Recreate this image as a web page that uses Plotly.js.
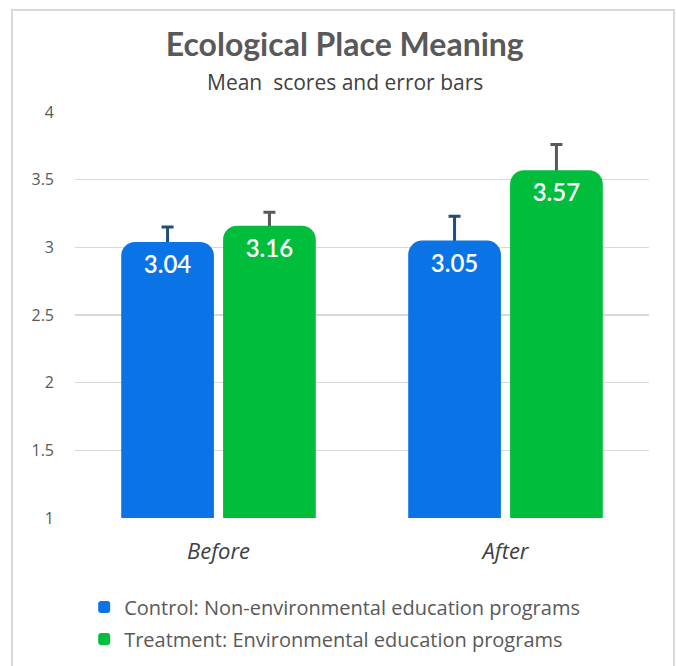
<!DOCTYPE html>
<html>
<head>
<meta charset="utf-8">
<script src="https://cdn.plot.ly/plotly-3.0.1.min.js"></script>
<style>
  html, body { margin: 0; padding: 0; background: #ffffff; }
  #wrap { position: relative; width: 676px; height: 666px; }
  #chart { width: 676px; height: 666px; }
  #frame { position: absolute; left: 11px; top: 9px; width: 664px; height: 664px;
           border: 2px solid #d9d9d9; pointer-events: none; box-sizing: border-box; }
</style>
</head>
<body>
<div id="wrap">
  <div id="chart"></div>
  <div id="frame"></div>
</div>
<script>
const categories = ["Before", "After"];
const controlName = "Control: Non-environmental education programs";
const treatmentName = "Treatment: Environmental education programs";
const controlMeans = [3.04, 3.05];
const treatmentMeans = [3.16, 3.57];
const controlErr = [0.11, 0.18];
const treatmentErr = [0.10, 0.19];
const yTicks = [1, 1.5, 2, 2.5, 3, 3.5, 4];
const yTickLabels = ["1", "1.5", "2", "2.5", "3", "3.5", "4"];

const LATO = "Lato, 'Open Sans', sans-serif";
const OPEN = "'Open Sans', Lato, sans-serif";

// Error-bar carrier traces (transparent bars) drawn first, so the real bars cover the lower half
function errTrace(means, errs, color, group) {
  return {
    type: "bar",
    x: categories,
    y: means,
    offsetgroup: group,
    showlegend: false,
    marker: { color: "rgba(0,0,0,0)" },
    error_y: { type: "data", array: errs, color: color, thickness: 3, width: 6 },
    hoverinfo: "none"
  };
}

function barTrace(name, means, color, group) {
  return {
    type: "bar",
    name: name,
    legendgroup: group,
    x: categories,
    y: means,
    offsetgroup: group,
    text: means.map(v => v.toFixed(2)),
    textposition: "inside",
    insidetextanchor: "end",
    textangle: 0,
    textfont: { family: LATO, size: 24, color: "#ffffff", weight: 600 },
    marker: { color: color, cornerradius: 14 },
    hoverinfo: "none"
  };
}

const traces = [
  errTrace(controlMeans, controlErr, "#1f4e79", "c"),
  errTrace(treatmentMeans, treatmentErr, "#595959", "t"),
  barTrace(controlName, controlMeans, "#0a74e6", "c"),
  barTrace(treatmentName, treatmentMeans, "#00be3c", "t")
];

const layout = {
  width: 676,
  height: 666,
  paper_bgcolor: "#ffffff",
  plot_bgcolor: "#ffffff",
  margin: { l: 75, r: 27, t: 112, b: 148 },
  barmode: "group",
  bargap: 0.29,
  bargroupgap: 0.09,
  font: { family: OPEN, color: "#595959" },
  title: {
    text: "<b>Ecological Place Meaning</b>",
    font: { family: LATO, size: 32, color: "#595959" },
    x: 0.51, xanchor: "center",
    xref: "container",
    y: 0.932, yanchor: "middle", yref: "container"
  },
  annotations: [{
    text: "Mean  scores and error bars",
    xref: "paper", yref: "paper",
    x: 0.47, y: 1.074, xanchor: "center", yanchor: "middle",
    showarrow: false,
    font: { family: OPEN, size: 21, color: "#404040" }
  }],
  xaxis: {
    type: "category",
    tickfont: { family: OPEN, size: 22, color: "#404040", style: "italic" },
    showline: false,
    ticks: "",
    ticklabelstandoff: 18
  },
  yaxis: {
    range: [1, 4],
    tickvals: yTicks,
    ticktext: yTickLabels,
    tickfont: { family: OPEN, size: 16, color: "#595959" },
    showgrid: true,
    gridcolor: "#d9d9d9",
    gridwidth: 1.5,
    zeroline: false,
    showline: false,
    ticks: "",
    ticklabelstandoff: 20
  },
  showlegend: true,
  legend: {
    orientation: "v",
    x: 0.016, xanchor: "left",
    y: 0.118, yanchor: "top", yref: "container",
    font: { family: OPEN, size: 20, color: "#595959" },
    itemwidth: 30,
    tracegroupgap: 3,
    bgcolor: "rgba(0,0,0,0)"
  }
};

Plotly.newPlot("chart", traces, layout, { displayModeBar: false, staticPlot: true });
</script>
</body>
</html>
